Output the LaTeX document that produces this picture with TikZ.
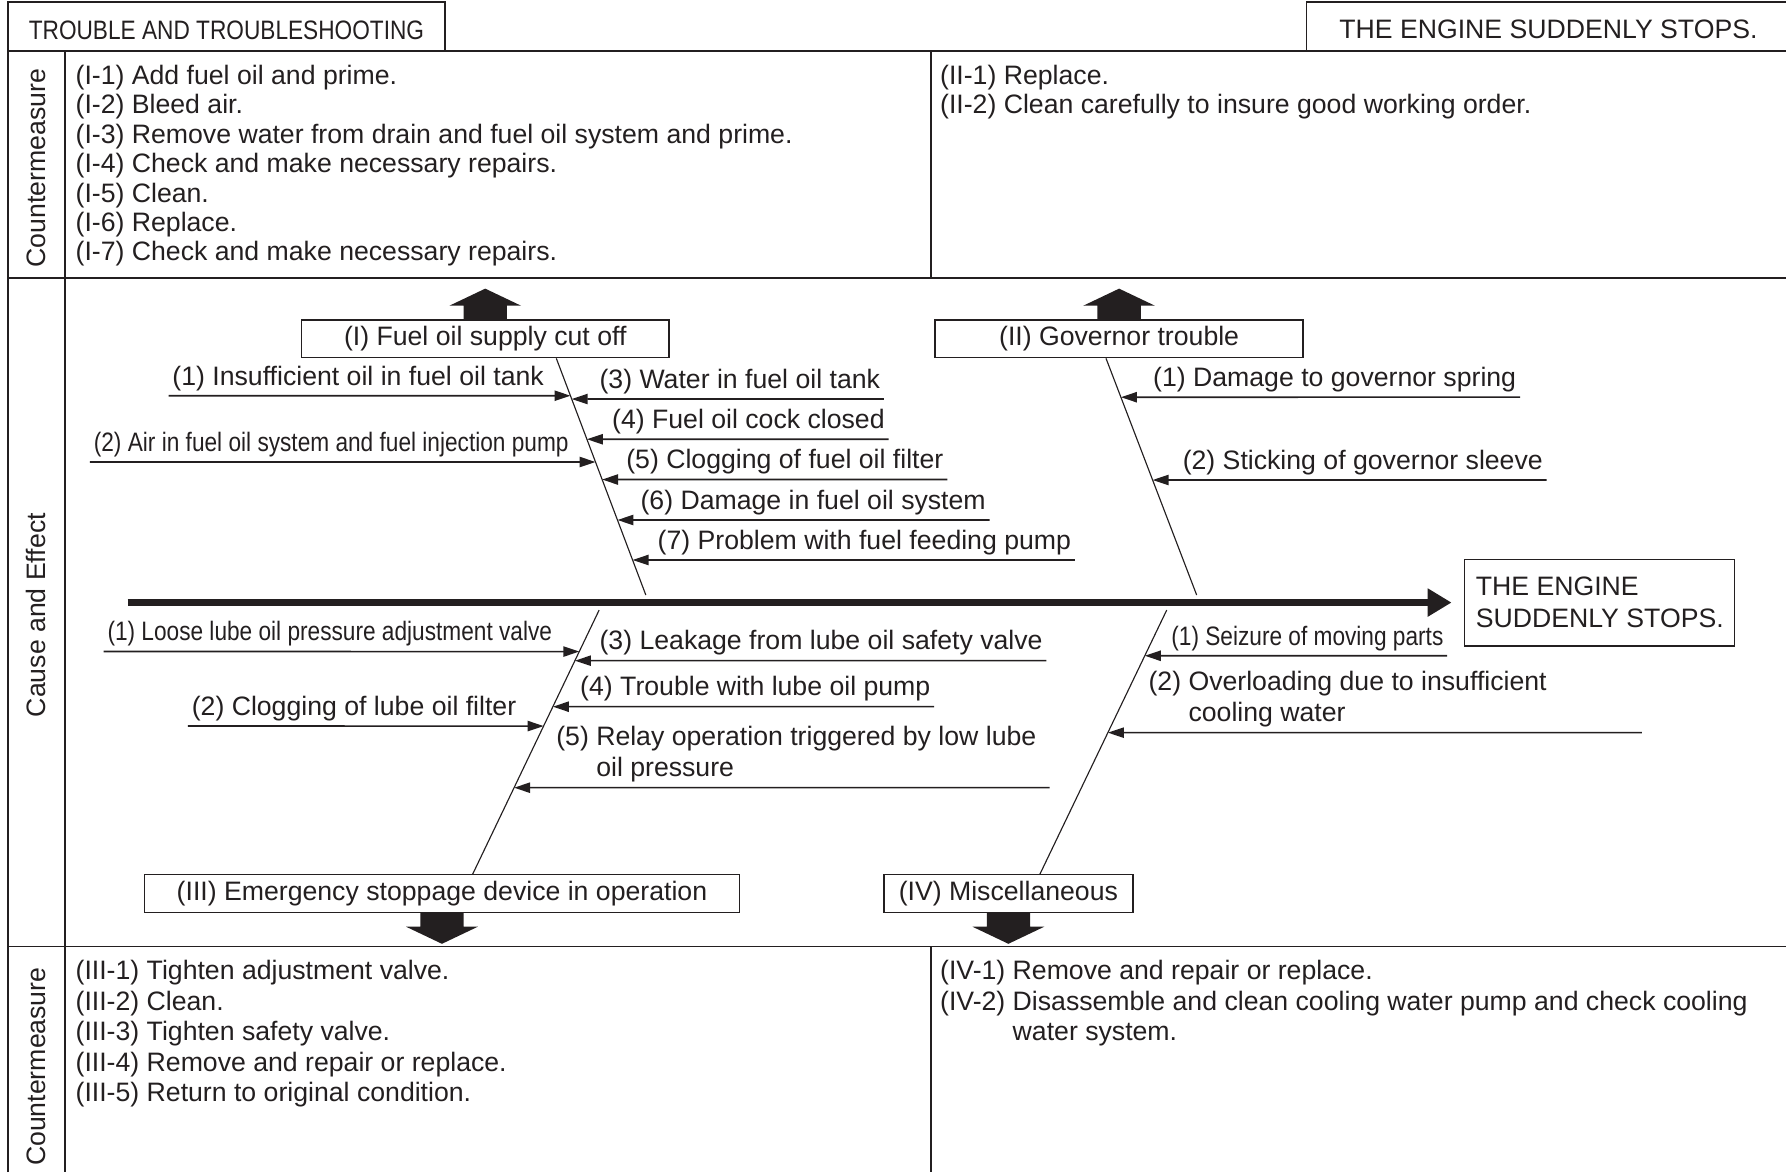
\documentclass[tikz,border=0pt]{standalone}
\usepackage{fontspec}
\setmainfont{Liberation Sans}
\newfontfamily\narrowfont[FakeStretch=0.85]{Liberation Sans}
\usepackage{tikz}
\usetikzlibrary{positioning,arrows.meta,calc}
\definecolor{ink}{HTML}{231F20}
\tikzset{
  rule/.style={draw=ink,line width=0.8pt},
  txt/.style={font=\fontsize{11.7}{14}\selectfont,inner sep=0pt,text=ink},
  ntxt/.style={font=\narrowfont\fontsize{11.7}{14}\selectfont,inner sep=0pt,text=ink},
  list/.style={txt,align=left,anchor=north west,font=\fontsize{11.7}{12.9}\selectfont},
  side/.style={txt,rotate=90},
  cbox/.style={rectangle,draw=ink,line width=0.6pt,txt,minimum height=16.5pt},
  cause/.style={inner xsep=1.5pt,inner ysep=0pt,text depth=4.5pt,align=left},
  bone/.style={draw=ink,line width=0.5pt},
  fl/.style={-{Triangle[length=7pt,width=4.5pt]},draw=ink,line width=0.7pt},
  spine/.style={-{Triangle[length=10.5pt,width=11.75pt]},draw=ink,line width=3.2pt,shorten >=5.5pt},
  blockarrow/.pic={\fill[ink] (-19,0) -- (-19,-12) -- (-31.5,-12) -- (0,-27) -- (31.5,-12) -- (19,-12) -- (19,0) -- cycle;},
}

\begin{document}
\begin{tikzpicture}[x=0.5pt,y=-0.5pt]
  \useasboundingbox (0,0) rectangle (1568,1029);
  % table frame
  \draw[rule] (7,1029) -- (7,2) -- (390.6,2) -- (390.6,44.8);
  \draw[rule] (1147,44.8) -- (1147,2) -- (1568,2);
  \draw[rule] (7,44.8) -- (1568,44.8);
  \draw[rule] (7,244) -- (1568,244);
  \draw[rule] (7,831) -- (1568,831);
  \draw[rule] (57,44.8) -- (57,1029);
  \draw[rule] (817,44.8) -- (817,244) (817,831) -- (817,1029);
  \node[ntxt] (ttl) at (198.8,26.3) {TROUBLE AND TROUBLESHOOTING};
  \node[txt] (hd) at (1359.4,25.7) {THE ENGINE SUDDENLY STOPS.};
  \node[side] (cm1) at (31.5,147.5) {Countermeasure};
  \node[side] (ce) at (31.5,540) {Cause and Effect};
  \node[side] (cm2) at (31.5,936.5) {Countermeasure};

  % countermeasures
  \node[list] (s1) at (66,56.9) {(I-1) Add fuel oil and prime.\\(I-2) Bleed air.\\
    (I-3) Remove water from drain and fuel oil system and prime.\\
    (I-4) Check and make necessary repairs.\\(I-5) Clean.\\(I-6) Replace.\\
    (I-7) Check and make necessary repairs.};
  \node[list] (s2) at (825,56.9) {(II-1) Replace.\\(II-2) Clean carefully to insure good working order.};
  \node[list,font=\fontsize{11.7}{13.4}\selectfont] (s3) at (66,842.7) {(III-1) Tighten adjustment valve.\\
    (III-2) Clean.\\(III-3) Tighten safety valve.\\(III-4) Remove and repair or replace.\\
    (III-5) Return to original condition.};
  \node[list,font=\fontsize{11.7}{13.4}\selectfont] (s4) at (825,842.7) {(IV-1) Remove and repair or replace.\\
    (IV-2) Disassemble and clean cooling water pump and check cooling\\
    \phantom{(IV-2) }water system.};

  % fishbone
  \node[cbox,minimum width=161.3pt] (bx1) at (426,297.5) {(I) Fuel oil supply cut off};
  \node[cbox,minimum width=161.5pt] (bx2) at (982.5,297.5) {(II) Governor trouble};
  \node[cbox,minimum width=261pt] (bx3) at (388,784.5) {(III) Emergency stoppage device in operation};
  \node[cbox,minimum width=109.3pt] (bx4) at (885.3,784.5) {(IV) Miscellaneous};
  \node[cbox,align=left,minimum width=118.5pt,minimum height=38pt] (eff) at (1404.5,529) {THE ENGINE\\SUDDENLY STOPS.};
  \pic at (bx1.north) {blockarrow};
  \pic at (bx2.north) {blockarrow};
  \pic[rotate=180] at (bx3.south) {blockarrow};
  \pic[rotate=180] at (bx4.south) {blockarrow};

  \coordinate (sp) at (112,529);
  \draw[spine] (sp) -- (eff);

  \coordinate (b1t) at ($(bx1.south)+(62.4,0)$);
  \coordinate (b1b) at (567,522.4);
  \coordinate (b2t) at ($(bx2.south)+(-11.5,0)$);
  \coordinate (b2b) at (1050.6,522.4);
  \coordinate (b3t) at (526,535.6);
  \coordinate (b3b) at ($(bx3.north)+(27,0)$);
  \coordinate (b4t) at (1024.3,535.6);
  \coordinate (b4b) at ($(bx4.north)+(27.7,0)$);
  \draw[bone] (b1t) -- (b1b);
  \draw[bone] (b2t) -- (b2b);
  \draw[bone] (b3t) -- (b3b);
  \draw[bone] (b4t) -- (b4b);

  % (I) causes
  \node[txt,cause,anchor=south west] (f1) at (148,347.4) {(1) Insufficient oil in fuel oil tank};
  \node[ntxt,cause,anchor=south west] (f2) at (79,405.6) {(2) Air in fuel oil system and fuel injection pump};
  \node[txt,cause,anchor=south west] (f3) at (523,350.3) {(3) Water in fuel oil tank};
  \node[txt,cause,anchor=south west] (f4) at (534,385.6) {(4) Fuel oil cock closed};
  \node[txt,cause,anchor=south west] (f5) at (546.5,421) {(5) Clogging of fuel oil filter};
  \node[txt,cause,anchor=south west] (f6) at (559,456.5) {(6) Damage in fuel oil system};
  \node[txt,cause,anchor=south west] (f7) at (574,491.6) {(7) Problem with fuel feeding pump};
  \draw[fl] (f1.south west) -- (intersection of b1t--b1b and f1.south west--f1.south east);
  \draw[fl] (f2.south west) -- (intersection of b1t--b1b and f2.south west--f2.south east);
  \draw[fl] (f3.south east) -- (intersection of b1t--b1b and f3.south east--f3.south west);
  \draw[fl] (f4.south east) -- (intersection of b1t--b1b and f4.south east--f4.south west);
  \draw[fl] (f5.south east) -- (intersection of b1t--b1b and f5.south east--f5.south west);
  \draw[fl] (f6.south east) -- (intersection of b1t--b1b and f6.south east--f6.south west);
  \draw[fl] (f7.south east) -- (intersection of b1t--b1b and f7.south east--f7.south west);

  % (II) causes
  \node[txt,cause,anchor=south west] (g1) at (1009,348.7) {(1) Damage to governor spring};
  \node[txt,cause,anchor=south west] (g2) at (1035,421.4) {(2) Sticking of governor sleeve};
  \draw[fl] (g1.south east) -- (intersection of b2t--b2b and g1.south east--g1.south west);
  \draw[fl] (g2.south east) -- (intersection of b2t--b2b and g2.south east--g2.south west);

  % (III) causes
  \node[ntxt,cause,anchor=south west] (l1) at (91,572) {(1) Loose lube oil pressure adjustment valve};
  \node[txt,cause,anchor=south west] (l2) at (165,637.4) {(2) Clogging of lube oil filter};
  \node[txt,cause,anchor=south west] (l3) at (523,580) {(3) Leakage from lube oil safety valve};
  \node[txt,cause,anchor=south west] (l4) at (506,620.4) {(4) Trouble with lube oil pump};
  \node[txt,cause,anchor=south west] (l5) at (485,691.5) {(5) Relay operation triggered by low lube\\\phantom{(5) }oil pressure};
  \coordinate (l5e) at (921.6,691.5);
  \draw[fl] (l1.south west) -- (intersection of b3t--b3b and l1.south west--l1.south east);
  \draw[fl] (l2.south west) -- (intersection of b3t--b3b and l2.south west--l2.south east);
  \draw[fl] (l3.south east) -- (intersection of b3t--b3b and l3.south east--l3.south west);
  \draw[fl] (l4.south east) -- (intersection of b3t--b3b and l4.south east--l4.south west);
  \draw[fl] (l5e) -- (intersection of b3t--b3b and l5e--l5.south west);

  % (IV) causes
  \node[ntxt,cause,anchor=south west] (m1) at (1025,575.7) {(1) Seizure of moving parts};
  \node[txt,cause,anchor=south west] (m2) at (1005,643.2) {(2) Overloading due to insufficient\\\phantom{(2) }cooling water};
  \coordinate (m2e) at (1441.5,643.2);
  \draw[fl] (m1.south east) -- (intersection of b4t--b4b and m1.south east--m1.south west);
  \draw[fl] (m2e) -- (intersection of b4t--b4b and m2e--m2.south west);
\end{tikzpicture}
\end{document}
